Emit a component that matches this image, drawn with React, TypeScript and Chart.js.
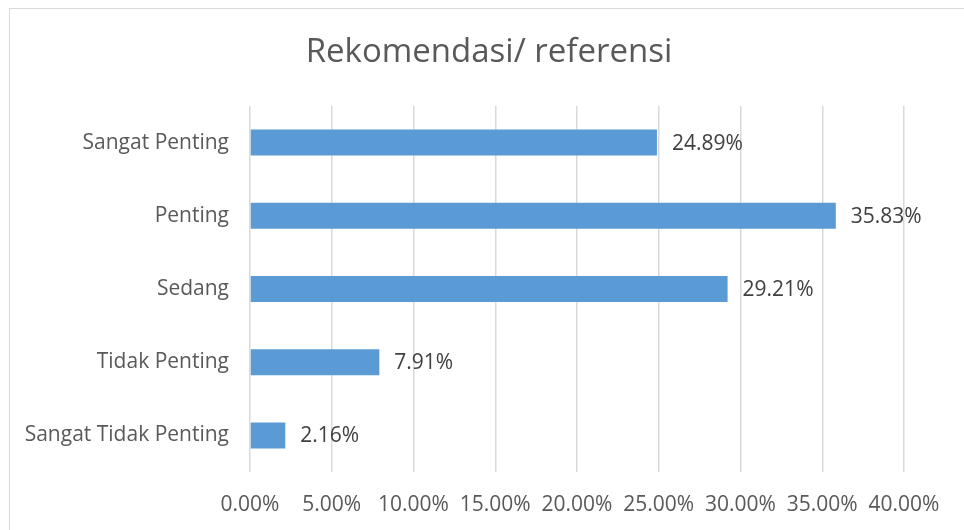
import React, { useEffect, useRef } from "react";
import { Chart, registerables } from "chart.js";

Chart.register(...registerables);

const categories = ["Sangat Penting", "Penting", "Sedang", "Tidak Penting", "Sangat Tidak Penting"];
const values = [24.89, 35.83, 29.21, 7.91, 2.16];
const xTicks = [0, 5, 10, 15, 20, 25, 30, 35, 40];
const titleText = "Rekomendasi/ referensi";

const FONT = "'Open Sans', 'Noto Sans', sans-serif";

const dataLabelPlugin = {
  id: "dataLabels",
  afterDatasetsDraw(chart: any) {
    const ctx = chart.ctx;
    const meta = chart.getDatasetMeta(0);
    ctx.save();
    ctx.font = `21px ${FONT}`;
    ctx.fillStyle = "#404040";
    ctx.textAlign = "left";
    ctx.textBaseline = "middle";
    meta.data.forEach((bar: any, i: number) => {
      ctx.fillText(values[i].toFixed(2) + "%", bar.x + 15, bar.y + 1);
    });
    ctx.restore();
  },
};

const titlePlugin = {
  id: "customTitle",
  afterDraw(chart: any) {
    const ctx = chart.ctx;
    ctx.save();
    ctx.font = `33px ${FONT}`;
    ctx.fillStyle = "#595959";
    ctx.textAlign = "center";
    ctx.textBaseline = "alphabetic";
    ctx.fillText(titleText, 489, 62);
    ctx.restore();
  },
};

export default function App() {
  const ref = useRef<HTMLCanvasElement>(null);
  useEffect(() => {
    if (!ref.current) return;
    const chart = new Chart(ref.current, {
      type: "bar",
      data: {
        labels: categories,
        datasets: [
          {
            data: values,
            backgroundColor: "#5B9BD5",
            borderWidth: 0,
            barPercentage: 0.355,
            categoryPercentage: 1,
          },
        ],
      },
      options: {
        indexAxis: "y",
        animation: false,
        responsive: false,
        layout: { padding: { left: 0, right: 60, top: 106, bottom: 0 } },
        plugins: {
          legend: { display: false },
          tooltip: { enabled: false },
          title: { display: false },
        },
        scales: {
          x: {
            min: 0,
            max: 40,
            afterBuildTicks: (scale: any) => {
              scale.ticks = xTicks.map((v) => ({ value: v }));
            },
            afterFit: (scale: any) => {
              scale.height = 58;
            },
            ticks: {
              color: "#595959",
              font: { family: FONT, size: 21 },
              padding: 20,
              maxRotation: 0,
              autoSkip: false,
              callback: (v: any) => Number(v).toFixed(2) + "%",
            },
            grid: { color: "#d9d9d9", lineWidth: 1.5, drawTicks: false },
            border: { display: false },
          },
          y: {
            afterFit: (scale: any) => {
              scale.width = 250;
            },
            ticks: {
              color: "#595959",
              font: { family: FONT, size: 21 },
              padding: 21,
            },
            grid: { display: false, drawTicks: false },
            border: { display: false },
          },
        },
      },
      plugins: [dataLabelPlugin, titlePlugin],
    });
    return () => chart.destroy();
  }, []);

  return (
    <div style={{ position: "fixed", left: 0, top: 0, width: 964, height: 530, overflow: "hidden", background: "#fff" }}>
      <div
        style={{
          position: "absolute",
          left: 9,
          top: 8,
          width: 1000,
          height: 600,
          borderTop: "1px solid #d9d9d9",
          borderLeft: "1px solid #d9d9d9",
        }}
      />
      <canvas ref={ref} width={964} height={530} style={{ position: "absolute", left: 0, top: 0 }} />
    </div>
  );
}
